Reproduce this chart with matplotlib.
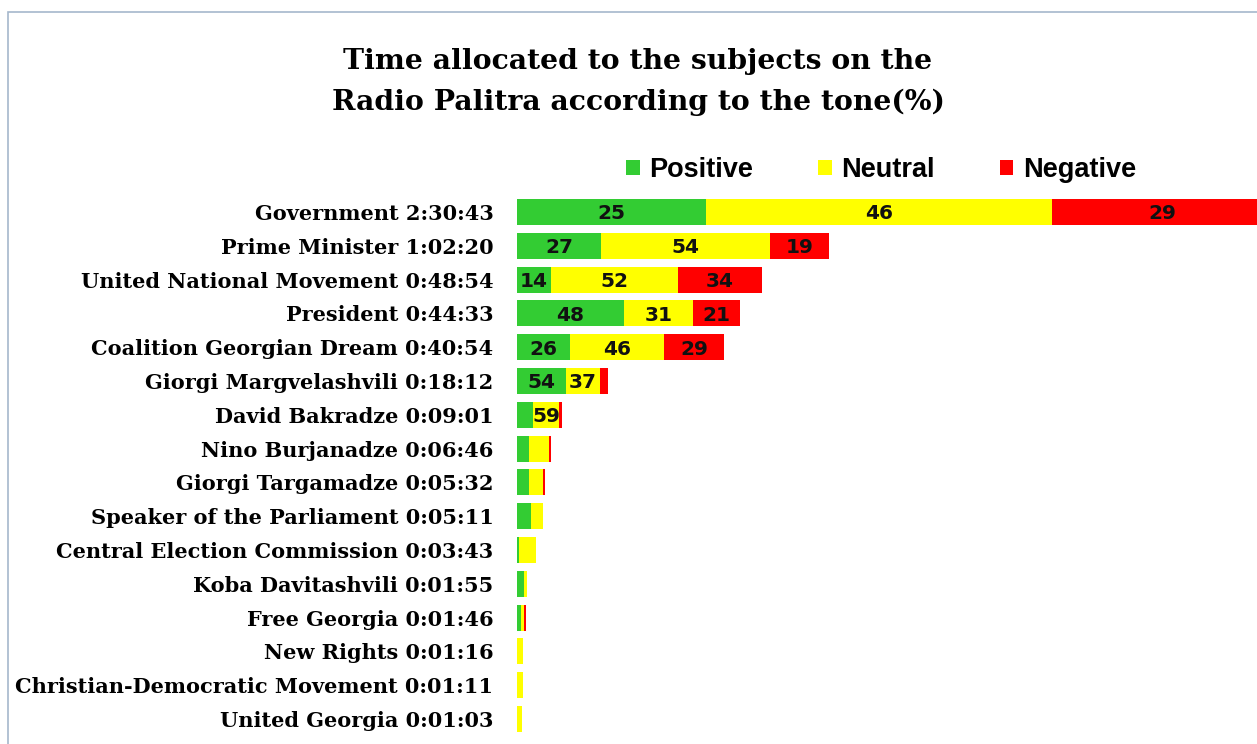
import matplotlib
matplotlib.use("Agg")
import matplotlib.pyplot as plt
from matplotlib.patches import Rectangle
import numpy as np

subjects = ["Government", "Prime Minister", "United National Movement", "President",
            "Coalition Georgian Dream", "Giorgi Margvelashvili", "David Bakradze",
            "Nino Burjanadze", "Giorgi Targamadze", "Speaker of the Parliament",
            "Central Election Commission", "Koba Davitashvili", "Free Georgia",
            "New Rights", "Christian-Democratic Movement", "United Georgia"]
times = ["2:30:43", "1:02:20", "0:48:54", "0:44:33", "0:40:54", "0:18:12", "0:09:01",
         "0:06:46", "0:05:32", "0:05:11", "0:03:43", "0:01:55", "0:01:46", "0:01:16",
         "0:01:11", "0:01:03"]
positive = [25, 27, 14, 48, 26, 54, 35, 36, 43, 54, 10, 70, 45, 0, 0, 0]
neutral = [46, 54, 52, 31, 46, 37, 59, 58, 50, 46, 90, 30, 35, 100, 100, 100]
negative = [29, 19, 34, 21, 29, 9, 6, 6, 7, 0, 0, 0, 20, 0, 0, 0]

def to_sec(t):
    h, m, s = (int(v) for v in t.split(":"))
    return h * 3600 + m * 60 + s

total = np.array([to_sec(t) for t in times], dtype=float)
series = [("Positive", positive, "#33CC33"), ("Neutral", neutral, "#FFFF00"),
          ("Negative", negative, "#FF0000")]

W, H = 1257, 744
fig = plt.figure(figsize=(W / 100, H / 100), dpi=100)
fig.patches.append(Rectangle((8 / W, -0.1), 1.2, 1.1 - 12 / H, transform=fig.transFigure,
                             fill=False, edgecolor="#A6B8CC", linewidth=1.2))

ax = fig.add_axes([517 / W, 8 / H, (W - 517) / W, (736 - 195) / H])
y = np.arange(len(subjects))
left = np.zeros(len(subjects))
handles = []
for name, pct, col in series:
    w = total * np.array(pct) / 100.0
    b = ax.barh(y, w, left=left, height=0.77, color=col, label=name)
    handles.append(b)
    for i in range(len(subjects)):
        if w[i] > 250 and pct[i] > 0:
            ax.text(left[i] + w[i] / 2, y[i] + 0.06, str(pct[i]), ha="center", va="center",
                    fontsize=14.5, fontweight="bold", family="DejaVu Sans", color="#111111")
    left += w

ax.set_ylim(len(subjects) - 0.5, -0.5)
ax.set_xlim(0, (W - 517) / 0.0834)
ax.set_yticks(y)
ax.set_yticklabels([f"{s} {t}" for s, t in zip(subjects, times)],
                   family="DejaVu Serif", fontweight="bold", fontsize=15)
ax.tick_params(axis="y", length=0, pad=17)
ax.set_xticks([])
for s in ax.spines.values():
    s.set_visible(False)

fig.text(638 / W, 1 - 82 / H, "Time allocated to the subjects on the\nRadio Palitra according to the tone(%)",
         ha="center", va="center", family="DejaVu Serif", fontweight="bold", fontsize=20.3,
         linespacing=1.6)

fig.legend(handles=handles, loc="center", bbox_to_anchor=(881 / W, 1 - 170 / H), ncol=3,
           frameon=False, prop={"family": "Liberation Sans", "weight": "bold", "size": 19.5},
           handlelength=0.5, handleheight=0.5, handletextpad=0.35, columnspacing=2.4)

fig.savefig("out.png", dpi=100)
